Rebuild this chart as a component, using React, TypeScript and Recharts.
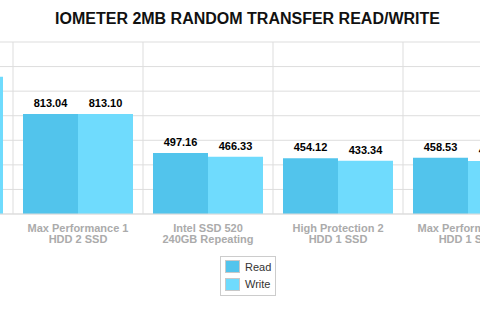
import React from "react";
import {
  BarChart,
  Bar,
  XAxis,
  YAxis,
  CartesianGrid,
  Legend,
  LabelList,
} from "recharts";

const categories = [
  "RAID 0\n3 SSD",
  "Max Performance 1\nHDD 2 SSD",
  "Intel SSD 520\n240GB Repeating",
  "High Protection 2\nHDD 1 SSD",
  "Max Performance 1\nHDD 1 SSD",
];
const readValues = [1110.0, 813.04, 497.16, 454.12, 458.53];
const writeValues = [1117.6, 813.1, 466.33, 433.34, 431.4];
const yTicks = [0, 200, 400, 600, 800, 1000, 1200, 1400];

const READ_COLOR = "#52c4ec";
const WRITE_COLOR = "#6fdbfd";
const FONT = '"Liberation Sans", Arial, Helvetica, sans-serif';

const data = categories.map((name, i) => ({
  name,
  read: readValues[i],
  write: writeValues[i],
}));

const fmt = (v: any) => Number(v).toFixed(2);

const CategoryTick = (props: any) => {
  const { x, y, payload } = props;
  const lines = String(payload.value).split("\n");
  return (
    <text
      x={x}
      y={y}
      textAnchor="middle"
      fill="#ababab"
      fontSize={11}
      fontWeight="bold"
      fontFamily={FONT}
    >
      {lines.map((l, i) => (
        <tspan key={i} x={x} dy={i === 0 ? 9.5 : 11.5}>
          {l}
        </tspan>
      ))}
    </text>
  );
};

const LegendBox = (props: any) => {
  const items = props.payload || [];
  return (
    <div
      style={{
        border: "1px solid #cccccc",
        padding: "1px 4px 2px 4px",
        background: "#fff",
        fontFamily: FONT,
        fontSize: 11,
        color: "#333",
      }}
    >
      {items.map((it: any) => (
        <div
          key={it.value}
          style={{ display: "flex", alignItems: "center", height: 17.5 }}
        >
          <span
            style={{
              display: "inline-block",
              width: 13,
              height: 11,
              background: it.color,
              border: "1px solid #c8c8c8",
              marginRight: 5,
            }}
          />
          <span>{it.value}</span>
        </div>
      ))}
    </div>
  );
};

export default function App() {
  const n = categories.length;
  return (
    <div
      style={{
        position: "fixed",
        left: 0,
        top: 0,
        width: 480,
        height: 318,
        overflow: "hidden",
        background: "#fff",
      }}
    >
      <div
        style={{
          position: "absolute",
          left: 0,
          top: 9,
          width: 495,
          textAlign: "center",
          fontFamily: FONT,
          fontWeight: "bold",
          fontSize: 16,
          lineHeight: "19px",
          color: "#111",
        }}
      >
        IOMETER 2MB RANDOM TRANSFER READ/WRITE
      </div>
      <div style={{ position: "absolute", left: -117, top: 0 }}>
        <BarChart
          width={650}
          height={318}
          data={data}
          margin={{ top: 42, right: 0, left: 0, bottom: 74 }}
          barCategoryGap={10}
          barGap={0}
        >
          <CartesianGrid
            stroke="#dddddd"
            verticalCoordinatesGenerator={({ offset }: any) =>
              categories.map(
                (_, i) => offset.left + (i * offset.width) / n
              )
            }
          />
          <XAxis
            dataKey="name"
            height={30}
            tickLine={false}
            axisLine={{ stroke: "#dddddd" }}
            interval={0}
            tick={<CategoryTick />}
          />
          <YAxis hide domain={[0, 1400]} ticks={yTicks} />
          <Legend
            layout="horizontal"
            verticalAlign="middle"
            align="center"
            content={<LegendBox />}
            wrapperStyle={{ left: 337, top: 256, width: "auto", height: "auto" }}
          />
          <Bar
            dataKey="read"
            name="Read"
            fill={READ_COLOR}
            isAnimationActive={false}
          >
            <LabelList
              dataKey="read"
              position="top"
              offset={7}
              formatter={fmt}
              fill="#000"
              fontSize={11}
              fontWeight="bold"
              fontFamily={FONT}
            />
          </Bar>
          <Bar
            dataKey="write"
            name="Write"
            fill={WRITE_COLOR}
            isAnimationActive={false}
          >
            <LabelList
              dataKey="write"
              position="top"
              offset={7}
              formatter={fmt}
              fill="#000"
              fontSize={11}
              fontWeight="bold"
              fontFamily={FONT}
            />
          </Bar>
        </BarChart>
      </div>
    </div>
  );
}
